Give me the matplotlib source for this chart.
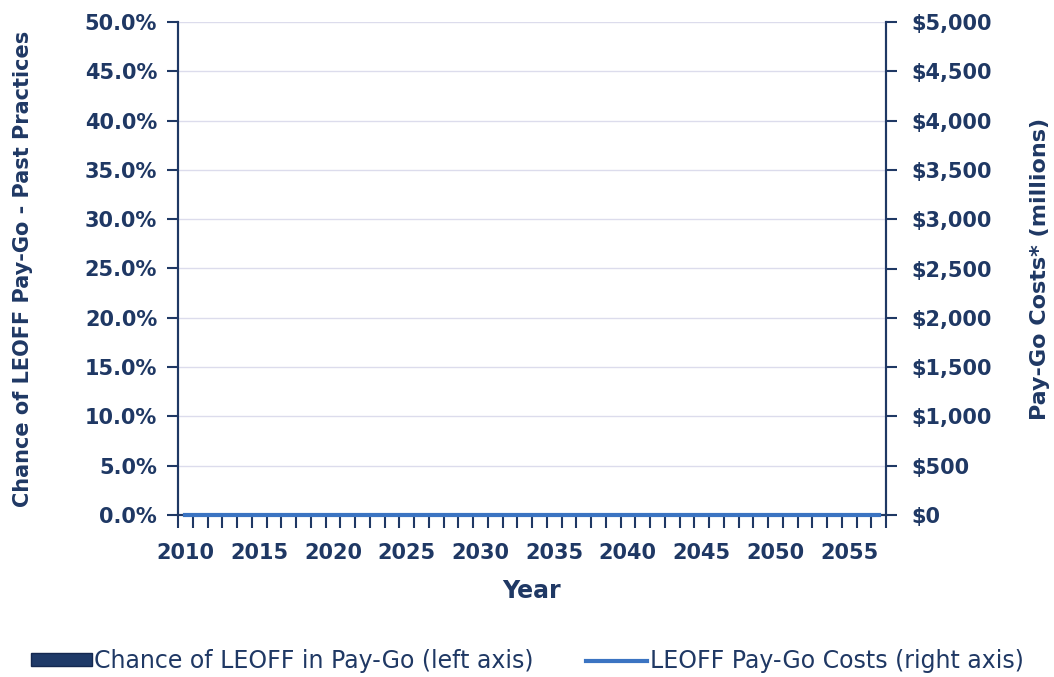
import numpy as np
import matplotlib.pyplot as plt
from matplotlib.ticker import FuncFormatter, MultipleLocator

# years on the category axis
years = list(range(2010, 2058))
# chance of pay-go (left axis, fraction) - all zero in the picture
chance = [0.0] * len(years)
# pay-go costs in $ millions (right axis) - also all zero
costs = [0.0] * len(years)

navy = "#1F3864"
bar_col = "#1F3A68"
line_col = "#3B74C2"
grid_col = "#DCDCEC"

plt.rcParams["font.family"] = "DejaVu Sans"

fig = plt.figure(figsize=(10.54, 6.77), dpi=100)
ax = fig.add_axes([178 / 1054, 1 - 515 / 677, (886 - 178) / 1054, (515 - 22) / 677])
ax2 = ax.twinx()

x = np.arange(len(years))
bars = ax.bar(x, chance, width=0.6, color=bar_col, edgecolor="#142850",
              label="Chance of LEOFF in Pay-Go (left axis)", zorder=2)
# line sits on the zero line, so don't clip the lower half of it
line, = ax2.plot(x, costs, color=line_col, lw=3, clip_on=False,
                 label="LEOFF Pay-Go Costs (right axis)", zorder=3)

ax.set_xlim(-0.5, len(years) - 0.5)
ax.set_ylim(0, 0.5)
ax2.set_ylim(0, 5000)

ax.yaxis.set_major_locator(MultipleLocator(0.05))
ax.yaxis.set_major_formatter(FuncFormatter(lambda v, p: f"{v * 100:.1f}%"))
ax2.yaxis.set_major_locator(MultipleLocator(500))
ax2.yaxis.set_major_formatter(FuncFormatter(lambda v, p: f"${v:,.0f}"))

ax.grid(axis="y", color=grid_col, lw=1, zorder=0)
ax.set_axisbelow(True)

lab_x = [i for i, y in enumerate(years) if y % 5 == 0]
ax.set_xticks(lab_x)
ax.set_xticklabels([str(years[i]) for i in lab_x])
ax.set_xticks(np.arange(-0.5, len(years), 1), minor=True)
ax.tick_params(axis="x", which="major", length=0, pad=20)
ax.tick_params(axis="x", which="minor", direction="out", length=9, width=1.5, color=navy)

for a in (ax, ax2):
    a.spines["top"].set_visible(False)
    for s in ("left", "right", "bottom"):
        a.spines[s].set_color(navy)
        a.spines[s].set_linewidth(1.5)
    a.tick_params(axis="y", direction="out", length=8, width=1.5, color=navy,
                  labelsize=15, labelcolor=navy)
ax.tick_params(axis="y", pad=7)
ax2.tick_params(axis="y", pad=10)
ax.tick_params(axis="x", labelsize=15, labelcolor=navy)
for t in ax.get_xticklabels() + ax.get_yticklabels() + ax2.get_yticklabels():
    t.set_fontweight("bold")

ax.set_ylabel("Chance of LEOFF Pay-Go - Past Practices", fontsize=15,
              fontweight="bold", color=navy)
ax2.set_ylabel("Pay-Go Costs* (millions)", fontsize=16, fontweight="bold",
               color=navy)
ax.yaxis.set_label_coords(-(178 - 33) / 708, 0.5)
ax2.yaxis.set_label_coords(1 + (1030 - 886) / 708, 0.5)
ax.set_xlabel("Year", fontsize=17, fontweight="bold", color=navy, labelpad=12)

fig.legend(handles=[bars, line], loc="center", bbox_to_anchor=(0.5, 1 - 661 / 677),
           ncol=2, frameon=False, fontsize=17, labelcolor=navy,
           handlelength=2.6, handleheight=0.45, handletextpad=0.1, columnspacing=2.2)

fig.savefig("out.png", dpi=100)
